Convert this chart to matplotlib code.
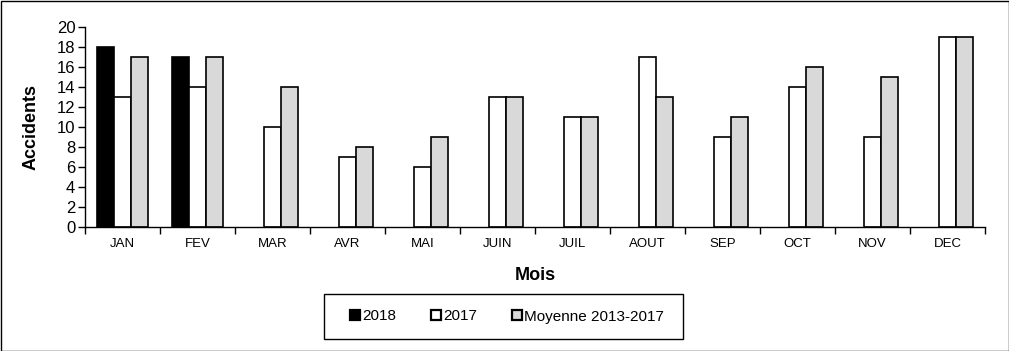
import numpy as np
import matplotlib
matplotlib.use("Agg")
from matplotlib import pyplot as plt
from matplotlib.patches import Rectangle

MONTHS = ["JAN", "FEV", "MAR", "AVR", "MAI", "JUIN", "JUIL", "AOUT", "SEP", "OCT", "NOV", "DEC"]
Y2018 = [18, 17, 0, 0, 0, 0, 0, 0, 0, 0, 0, 0]
Y2017 = [13, 14, 10, 7, 6, 13, 11, 17, 9, 14, 9, 19]
MEAN = [17, 17, 14, 8, 9, 13, 11, 13, 11, 16, 15, 19]
SERIES = ["2018", "2017", "Moyenne 2013-2017"]

plt.rcParams["font.family"] = ["Liberation Sans", "DejaVu Sans"]

W, H = 1009, 351
fig = plt.figure(figsize=(W / 100, H / 100), dpi=100)
ax = fig.add_axes([85 / W, 1 - 227 / H, 900 / W, 200 / H])

x = np.arange(len(MONTHS))
w = 0.227
n18 = sum(1 for v in Y2018 if v > 0)
ax.bar(x[:n18] - w, Y2018[:n18], w, color="black", edgecolor="black", linewidth=1.2, label=SERIES[0])
ax.bar(x, Y2017, w, color="white", edgecolor="black", linewidth=1.2, label=SERIES[1])
ax.bar(x + w, MEAN, w, color="#d9d9d9", edgecolor="black", linewidth=1.2, label=SERIES[2])

ax.set_xlim(-0.5, len(MONTHS) - 0.5)
ax.set_ylim(0, 20)
ax.set_yticks(range(0, 21, 2))
ax.set_xticks(x)
ax.set_xticklabels(MONTHS, fontsize=9.5)
ax.set_xticks(np.arange(-0.5, len(MONTHS)), minor=True)
ax.tick_params(axis="x", which="major", length=0, pad=8)
ax.tick_params(axis="x", which="minor", length=5, width=1)
ax.tick_params(axis="y", labelsize=12, length=5, width=1, pad=2)
for s in ["top", "right"]:
    ax.spines[s].set_visible(False)
ax.spines["left"].set_linewidth(1)
ax.spines["bottom"].set_linewidth(1)

ax.set_ylabel("Accidents", fontsize=13, fontweight="bold", labelpad=12)
ax.set_xlabel("Mois", fontsize=13, fontweight="bold", labelpad=12)

leg = fig.legend(loc="center", bbox_to_anchor=(507 / W, 1 - 316.5 / H), ncol=3,
                 fontsize=11, frameon=False,
                 handlelength=0.65, handleheight=0.65, handletextpad=0.15, columnspacing=2.3,
                 borderpad=0, borderaxespad=0)
for h in leg.legend_handles:
    h.set_linewidth(1.6)

fig.patches.append(Rectangle((324 / W, 1 - 339 / H), 359 / W, 45 / H,
                             transform=fig.transFigure, fill=False, edgecolor="black", linewidth=1))
fig.patches.append(Rectangle((0.5 / W, 0.5 / H), 1 - 1 / W, 1 - 1 / H,
                             transform=fig.transFigure, fill=False, edgecolor="black", linewidth=1))

fig.savefig("out.png", dpi=100)
